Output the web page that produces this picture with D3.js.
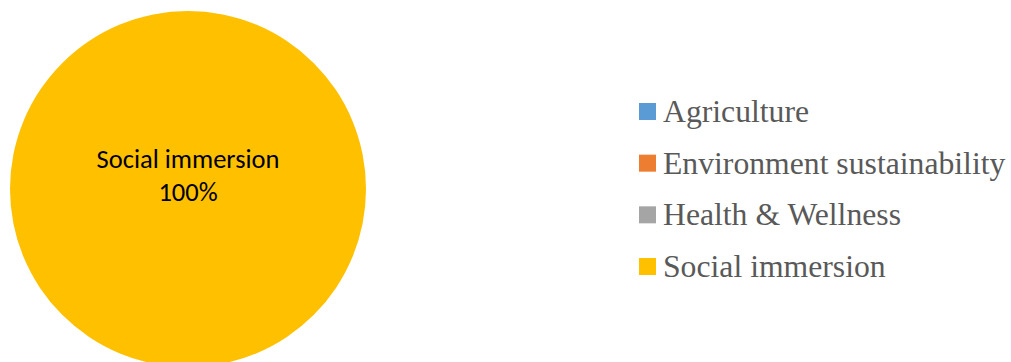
<!DOCTYPE html>
<html><head><meta charset="utf-8">
<script src="https://cdn.jsdelivr.net/npm/d3@7/dist/d3.min.js"></script>
<style>body{margin:0;background:#fff}svg{display:block}</style>
</head><body>
<svg id="c" width="1011" height="362"></svg>
<script>
const categories = ["Agriculture", "Environment sustainability", "Health & Wellness", "Social immersion"];
const values = [0, 0, 0, 100];
const colors = ["#5B9BD5", "#ED7D31", "#A5A5A5", "#FFC000"];

const svg = d3.select("#c");
const cx = 188, cy = 189, r = 178;
const pie = d3.pie().sort(null).value(d => d.v);
const data = categories.map((c, i) => ({c, v: values[i], col: colors[i]}));
const arcs = pie(data);
const arc = d3.arc().innerRadius(0).outerRadius(r);
const g = svg.append("g").attr("transform", `translate(${cx},${cy})`);
g.selectAll("path").data(arcs.filter(a => a.data.v > 0)).join("path")
  .attr("d", arc).attr("fill", d => d.data.col);

const total = d3.sum(values);
const fmt = d3.format(".0%");
arcs.filter(a => a.data.v > 0).forEach(a => {
  const [lx, ly] = (a.endAngle - a.startAngle) >= 2 * Math.PI - 1e-6 ? [0, 0] : d3.arc().innerRadius(r*0.5).outerRadius(r*0.5).centroid(a);
  const t = g.append("text").attr("text-anchor", "middle")
    .attr("font-family", "Carlito, Calibri, Lato, sans-serif").attr("font-size", 26.5).attr("fill", "#000");
  t.append("tspan").attr("x", lx).attr("y", ly - 21).text(a.data.c);
  t.append("tspan").attr("x", lx).attr("y", ly + 12).text(fmt(a.data.v / total));
});

const lg = svg.append("g").attr("transform", "translate(639,0)");
const rowY = d3.scalePoint().domain(categories).range([111, 266]);
const items = lg.selectAll("g").data(data).join("g")
  .attr("transform", d => `translate(0,${rowY(d.c)})`);
items.append("rect").attr("x", 0).attr("y", -8).attr("width", 17).attr("height", 17).attr("fill", d => d.col);
items.append("text").attr("x", 24).attr("y", 11)
  .attr("font-family", "'Liberation Serif', 'Times New Roman', serif").attr("font-size", 31.7)
  .attr("fill", "#595959").text(d => d.c);
</script>
</body></html>
